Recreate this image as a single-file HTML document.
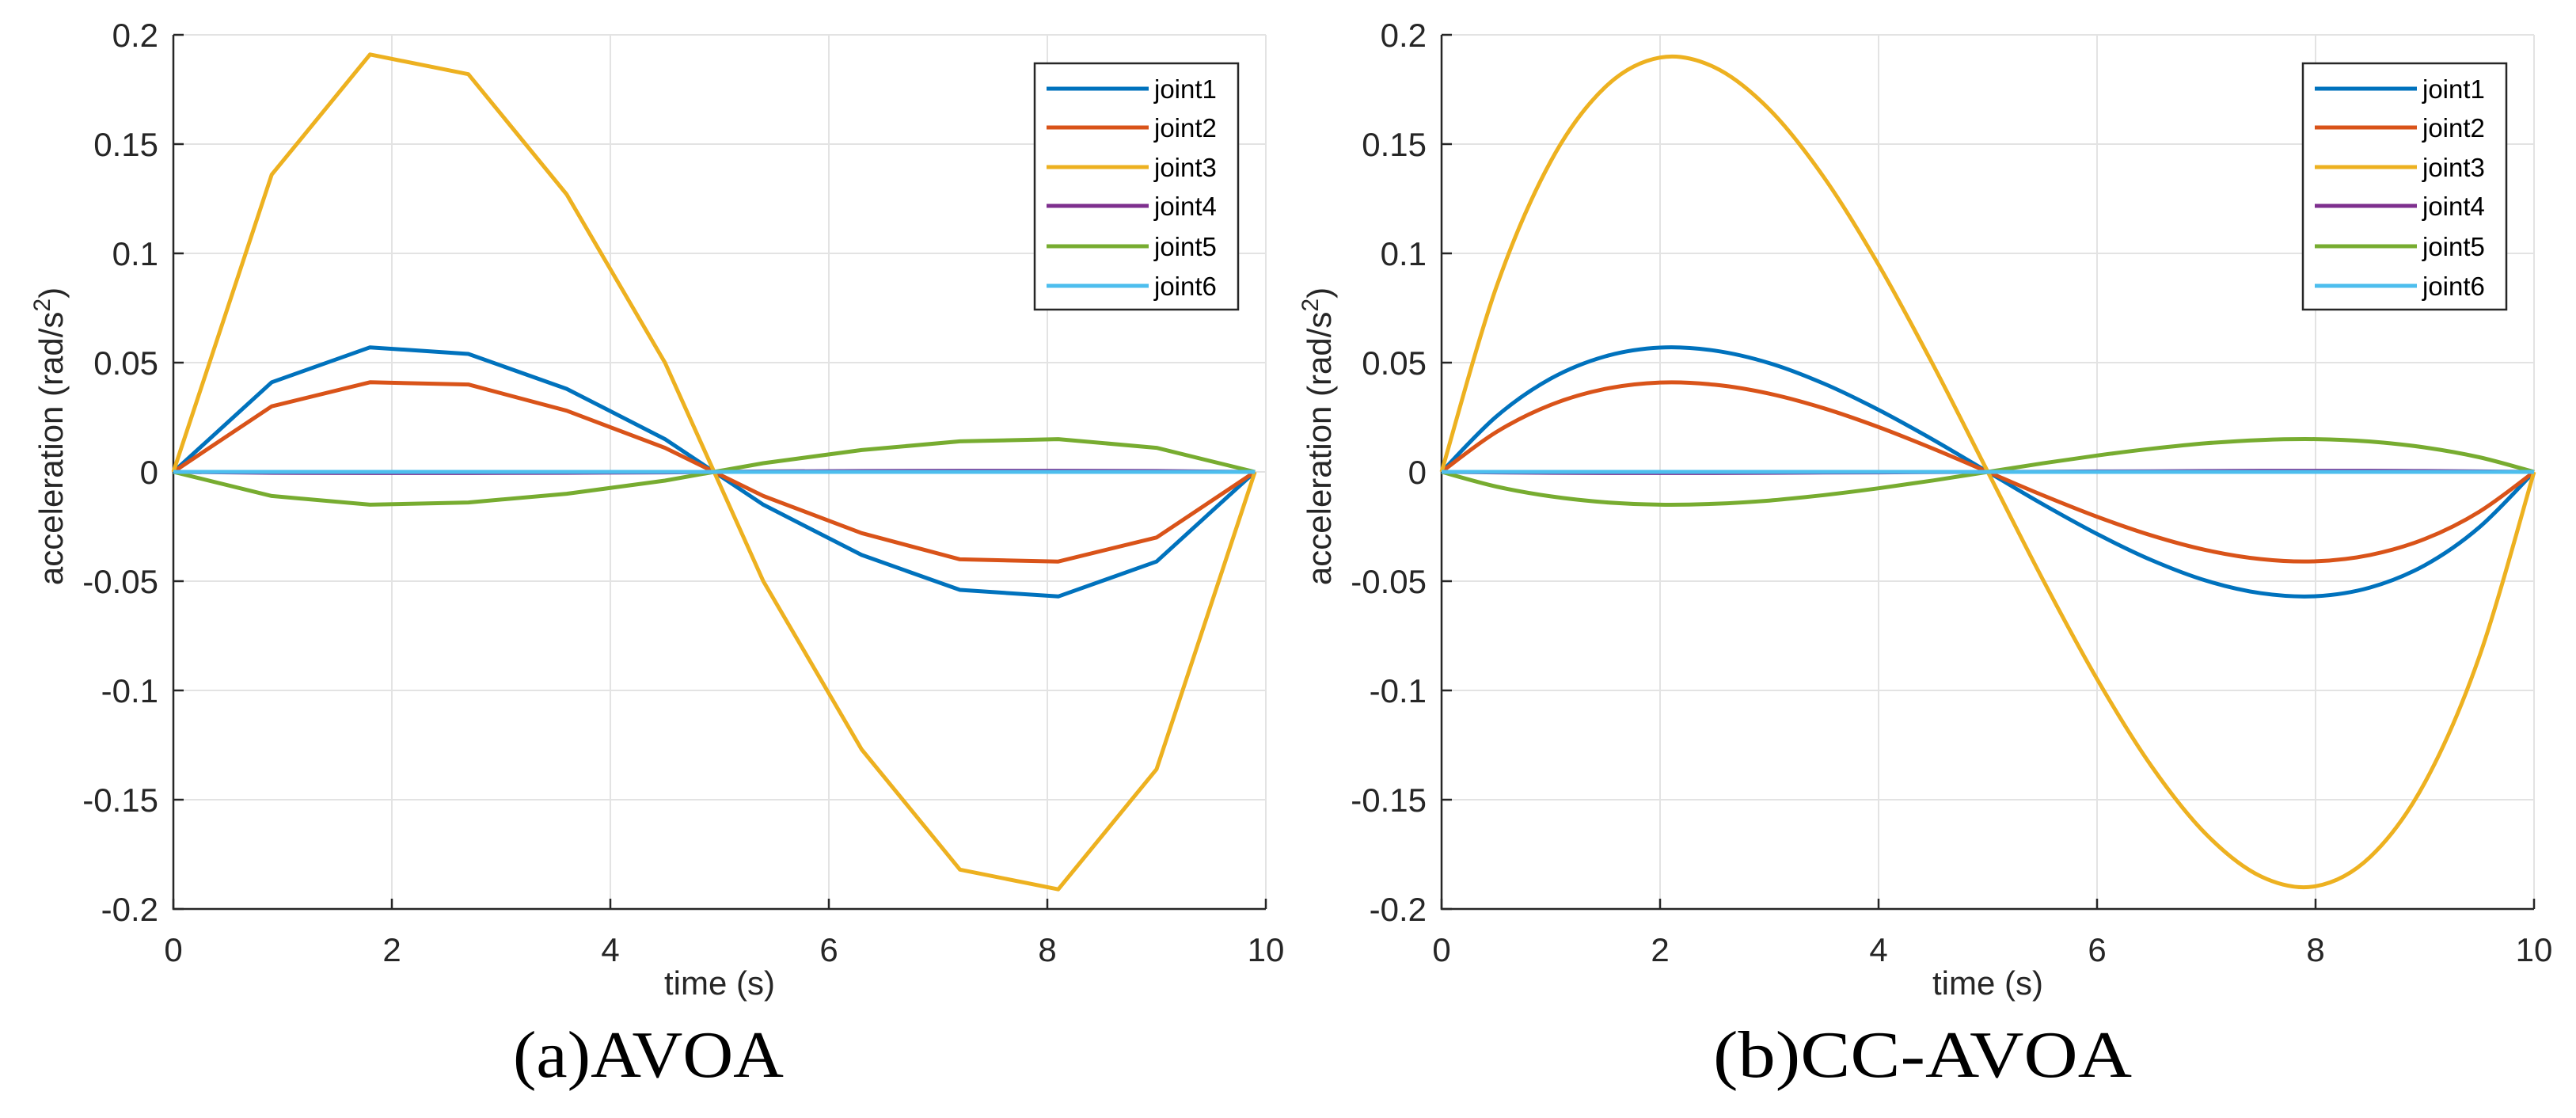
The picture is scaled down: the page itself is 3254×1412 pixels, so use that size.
<!DOCTYPE html>
<html><head><meta charset="utf-8"><style>
html,body{margin:0;padding:0;background:#fff;}
svg{display:block;}
</style></head><body>
<svg id="fig" width="3254" height="1412" viewBox="0 0 3254 1412" xmlns="http://www.w3.org/2000/svg"></svg>
<script>
const xTicks=[0,2,4,6,8,10];
const yTicks=[0.2,0.15,0.1,0.05,0,-0.05,-0.1,-0.15,-0.2];
const yTickLabels=["0.2","0.15","0.1","0.05","0","-0.05","-0.1","-0.15","-0.2"];
const seriesNames=["joint1","joint2","joint3","joint4","joint5","joint6"];
const colors=["#0072bd","#d95319","#edb120","#7e2f8e","#77ac30","#4dbeee"];
// Panel (a) AVOA
const tA=[0,0.9,1.8,2.7,3.6,4.5,4.95,5.4,6.3,7.2,8.1,9.0,9.9];
const a1=[0,0.041,0.057,0.054,0.038,0.015,0,-0.015,-0.038,-0.054,-0.057,-0.041,0];
const a2=[0,0.030,0.041,0.040,0.028,0.011,0,-0.011,-0.028,-0.040,-0.041,-0.030,0];
const a3=[0,0.136,0.191,0.182,0.127,0.050,0,-0.050,-0.127,-0.182,-0.191,-0.136,0];
const a4=[0,-0.0004,-0.0005,-0.0005,-0.0004,-0.0002,0,0.0002,0.0004,0.0005,0.0005,0.0004,0];
const a5=[0,-0.011,-0.015,-0.014,-0.010,-0.004,0,0.004,0.010,0.014,0.015,0.011,0];
const a6=[0,0,0,0,0,0,0,0,0,0,0,0,0];
// Panel (b) CC-AVOA
const tB=[0,0.5,1,1.5,2,2.5,3,3.5,4,4.5,5,5.5,6,6.5,7,7.5,8,8.5,9,9.5,10];
const b1=[0,0.0253,0.0427,0.0529,0.0569,0.0555,0.0498,0.0404,0.0284,0.0147,0,-0.0147,-0.0284,-0.0404,-0.0498,-0.0555,-0.0569,-0.0529,-0.0427,-0.0253,0];
const b2=[0,0.0182,0.0307,0.0380,0.0409,0.0399,0.0358,0.0291,0.0205,0.0106,0,-0.0106,-0.0205,-0.0291,-0.0358,-0.0399,-0.0409,-0.0380,-0.0307,-0.0182,0];
const b3=[0,0.0844,0.1422,0.1762,0.1896,0.1851,0.1659,0.1348,0.0948,0.0489,0,-0.0489,-0.0948,-0.1348,-0.1659,-0.1851,-0.1896,-0.1762,-0.1422,-0.0844,0];
const b4=[0,-0.0002,-0.0004,-0.0005,-0.0005,-0.0005,-0.0004,-0.0003,-0.0002,-0.0001,0,0.0001,0.0002,0.0003,0.0004,0.0005,0.0005,0.0005,0.0004,0.0002,0];
const b5=[0,-0.0067,-0.0112,-0.0139,-0.0150,-0.0146,-0.0131,-0.0106,-0.0075,-0.0039,0,0.0039,0.0075,0.0106,0.0131,0.0146,0.0150,0.0139,0.0112,0.0067,0];
const b6=[0,0,0,0,0,0,0,0,0,0,0,0,0,0,0,0,0,0,0,0,0];

const NS="http://www.w3.org/2000/svg";
const svg=document.getElementById('fig');
function mk(tag,attrs,parent){const e=document.createElementNS(NS,tag);for(const k in attrs)e.setAttribute(k,attrs[k]);(parent||svg).appendChild(e);return e;}

function pathD(P,smooth){
  if(!smooth) return P.map((p,j)=>(j?'L':'M')+p[0].toFixed(1)+','+p[1].toFixed(1)).join('');
  let d='M'+P[0][0].toFixed(1)+','+P[0][1].toFixed(1);
  for(let i=0;i<P.length-1;i++){
    const p0=P[Math.max(i-1,0)],p1=P[i],p2=P[i+1],p3=P[Math.min(i+2,P.length-1)];
    const c1=[p1[0]+(p2[0]-p0[0])/6,p1[1]+(p2[1]-p0[1])/6];
    const c2=[p2[0]-(p3[0]-p1[0])/6,p2[1]-(p3[1]-p1[1])/6];
    d+='C'+c1[0].toFixed(1)+','+c1[1].toFixed(1)+' '+c2[0].toFixed(1)+','+c2[1].toFixed(1)+' '+p2[0].toFixed(1)+','+p2[1].toFixed(1);
  }
  return d;
}

function panel(id,left,t,ys,caption,capX,capW,smooth){
  const top=44,bottom=1148,W=1380;
  const g=mk('g',{});
  
  
  const xs=v=>left+v/10*W;
  const yv=v=>bottom-(v+0.2)/0.4*(bottom-top);
  xTicks.forEach(v=>{const l=mk('line',{x1:xs(v),x2:xs(v),y1:top,y2:bottom,stroke:'#e3e3e3','stroke-width':2},g);
    
    });
  yTicks.forEach(v=>{const l=mk('line',{x1:left,x2:left+W,y1:yv(v),y2:yv(v),stroke:'#e3e3e3','stroke-width':2},g);
    
    });
  const ax=mk('path',{d:`M${left},${top}V${bottom}H${left+W}`,fill:'none',stroke:'#262626','stroke-width':2.5},g);
  
  
  xTicks.forEach(v=>{mk('line',{x1:xs(v),x2:xs(v),y1:bottom,y2:bottom-13,stroke:'#262626','stroke-width':2.5},g);
    const tx=mk('text',{x:xs(v),y:1214,'text-anchor':'middle','font-size':42,fill:'#262626','font-family':'Liberation Sans, sans-serif'},g);
    tx.textContent=v;
    
    });
  yTicks.forEach((v,i)=>{mk('line',{x1:left,x2:left+13,y1:yv(v),y2:yv(v),stroke:'#262626','stroke-width':2.5},g);
    const tx=mk('text',{x:left-19,y:yv(v)+15,'text-anchor':'end','font-size':42,fill:'#262626','font-family':'Liberation Sans, sans-serif'},g);
    tx.textContent=yTickLabels[i];
    
    });
  ys.forEach((arr,i)=>{
    const P=arr.map((v,j)=>[xs(t[j]),yv(v)]);
    const p=mk('path',{d:pathD(P,smooth),fill:'none',stroke:colors[i],'stroke-width':5,'stroke-linejoin':'round'},g);
    
    
  });
  const xl=mk('text',{x:left+W/2,y:1256,'text-anchor':'middle','font-size':42,fill:'#262626','font-family':'Liberation Sans, sans-serif'},g);
  xl.textContent='time (s)';
  
  
  const yl=mk('text',{x:0,y:0,'text-anchor':'middle','font-size':42,fill:'#262626','font-family':'Liberation Sans, sans-serif',transform:`translate(${left-140},${551}) rotate(-90)`},g);
  yl.innerHTML='acceleration (rad/s<tspan dy="-16" font-size="30">2</tspan><tspan dy="16">)</tspan>';
  
  
  const cap=mk('text',{x:capX,y:1360,'font-size':84,fill:'#000','font-family':'Liberation Serif, serif',textLength:capW,lengthAdjust:'spacingAndGlyphs'},g);
  cap.textContent=caption;
  
  
  const lx=left+1088,ly=80;
  const lg=mk('g',{},g);
  
  
  mk('rect',{x:lx,y:ly,width:257,height:311,fill:'#fff',stroke:'#262626','stroke-width':2.5},lg);
  const rows=[32,81,131,180,231,281];
  seriesNames.forEach((n,i)=>{
    const e=mk('g',{},lg);
    
    
    mk('line',{x1:lx+15,x2:lx+144,y1:ly+rows[i],y2:ly+rows[i],stroke:colors[i],'stroke-width':5},e);
    const tx=mk('text',{x:lx+151,y:ly+rows[i]+12,'font-size':33,fill:'#000','font-family':'Liberation Sans, sans-serif'},e);
    tx.textContent=n;
  });
}
panel('avoa',219,tA,[a1,a2,a3,a4,a5,a6],'(a)AVOA',648,342,false);
panel('cc-avoa',1821,tB,[b1,b2,b3,b4,b5,b6],'(b)CC-AVOA',2164,529,true);
</script>
</body></html>
